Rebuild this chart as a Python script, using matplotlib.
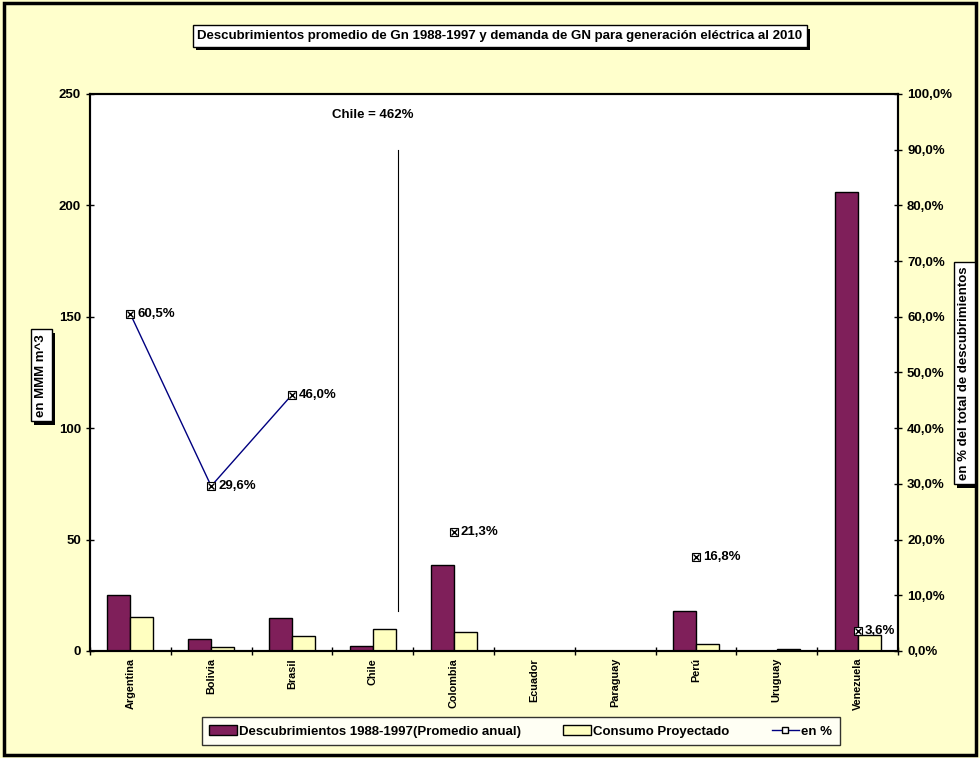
import numpy as np
import matplotlib.pyplot as plt
import matplotlib.patheffects as pe
from matplotlib.patches import Rectangle

plt.rcParams['font.family'] = ['Liberation Sans', 'DejaVu Sans']
plt.rcParams['font.weight'] = 'bold'

# data
paises = ['Argentina', 'Bolivia', 'Brasil', 'Chile', 'Colombia', 'Ecuador',
          'Paraguay', 'Perú', 'Uruguay', 'Venezuela']
descubrimientos = [25.0, 5.4, 15.0, 2.2, 38.6, 0.0, 0.0, 18.0, 0.0, 206.0]
consumo = [15.3, 1.8, 6.7, 9.9, 8.5, 0.0, 0.0, 3.1, 0.8, 7.2]
pct = [60.5, 29.6, 46.0, np.nan, 21.3, np.nan, np.nan, 16.8, np.nan, 3.6]
pct_labels = ['60,5%', '29,6%', '46,0%', '', '21,3%', '', '', '16,8%', '', '3,6%']
y_ticks = [0, 50, 100, 150, 200, 250]
pct_ticks = [0, 10, 20, 30, 40, 50, 60, 70, 80, 90, 100]

bg = '#FFFFCC'
purple = '#7F1F5A'
yellow = '#FFFFC0'

fig = plt.figure(figsize=(9.8, 7.58), dpi=100, facecolor=bg)
fig.patches.append(Rectangle((0.004, 0.004), 0.992, 0.992, transform=fig.transFigure,
                             fill=False, edgecolor='black', linewidth=2.5))

ax = fig.add_axes([0.0918, 0.1412, 0.8245, 0.7348])
ax.set_facecolor('white')
x = np.arange(len(paises))
w = 0.285
ax.bar(x - w / 2, descubrimientos, w, color=purple, edgecolor='black', linewidth=1,
       label='Descubrimientos 1988-1997(Promedio anual)', zorder=2)
ax.bar(x + w / 2, consumo, w, color=yellow, edgecolor='black', linewidth=1,
       label='Consumo Proyectado', zorder=2)
ax.set_xlim(-0.5, len(paises) - 0.5)
ax.set_ylim(0, 250)
ax.set_yticks(y_ticks)
ax.set_yticklabels([str(t) for t in y_ticks], fontsize=9.5, fontweight='bold')
ax.set_xticks(x)
ax.set_xticklabels(paises, rotation=90, fontsize=7.8, fontweight='bold')
ax.set_xticks(np.arange(-0.5, len(paises)), minor=True)
ax.tick_params(axis='x', which='major', length=0, pad=5)
ax.tick_params(axis='x', which='minor', length=6, direction='inout', width=1)
ax.tick_params(axis='y', length=6, direction='inout', width=1)
for s in ax.spines.values():
    s.set_linewidth(1.5)

# Chile annotation
ax.plot([3.31, 3.31], [18, 225], color='black', linewidth=0.8, zorder=3)
ax.text(3.0, 240.5, 'Chile = 462%', ha='center', va='center', fontsize=9.5,
        fontweight='bold')

ax2 = ax.twinx()
ax2.set_ylim(0, 100)
ax2.set_yticks(pct_ticks)
ax2.set_yticklabels([f'{t:.1f}%'.replace('.', ',') for t in pct_ticks], fontsize=9.5,
                    fontweight='bold')
ax2.tick_params(axis='y', length=6, direction='inout', width=1)
for s in ax2.spines.values():
    s.set_linewidth(1.5)
ax2.plot(x, pct, color='#000080', linewidth=1, zorder=4)
ax2.plot(x, pct, linestyle='none', marker='s', markersize=6, markerfacecolor='white',
         markeredgecolor='black', markeredgewidth=0.8, zorder=5)
ax2.plot(x, pct, linestyle='none', marker='x', markersize=4.5, color='black',
         markeredgewidth=1, zorder=6)
for xi, v, lab in zip(x, pct, pct_labels):
    if lab:
        ax2.text(xi + 0.09, v, lab, ha='left', va='center', fontsize=9.5,
                 fontweight='bold', zorder=7)

# legend handle for line
ax2.plot([], [], color='#000080', linewidth=1, marker='s', markersize=5,
         markerfacecolor='white', markeredgecolor='black', label='en %')

h1, l1 = ax.get_legend_handles_labels()
h2, l2 = ax2.get_legend_handles_labels()
leg = fig.legend(h1 + h2[-1:], l1 + l2[-1:], loc='center', bbox_to_anchor=(0.5315, 0.0356),
                 ncol=3, frameon=True, fancybox=False, edgecolor='black',
                 prop={'size': 9.5, 'weight': 'bold'}, handlelength=2.1, handleheight=0.9,
                 handletextpad=0.15, columnspacing=3.2, borderpad=0.6, borderaxespad=0)
leg.get_frame().set_linewidth(1)

box = dict(boxstyle='square,pad=0.35', facecolor='white', edgecolor='black', linewidth=1)
shadow = [pe.withSimplePatchShadow(offset=(2.5, -2.5), shadow_rgbFace='black', alpha=1)]
texts = [
    fig.text(0.510, 0.9525, 'Descubrimientos promedio de Gn 1988-1997 y demanda de GN '
             'para generación eléctrica al 2010', ha='center', va='center', fontsize=9.5,
             fontweight='bold', bbox=box),
    fig.text(0.042, 0.505, 'en MMM m^3', rotation=90, ha='center', va='center',
             fontsize=9.5, fontweight='bold', bbox=box),
    fig.text(0.984, 0.508, 'en % del total de descubrimientos', rotation=90, ha='center',
             va='center', fontsize=9.5, fontweight='bold', bbox=box),
]
for t in texts:
    t.get_bbox_patch().set_path_effects(shadow)

fig.savefig('out.png', dpi=100, facecolor=bg)
